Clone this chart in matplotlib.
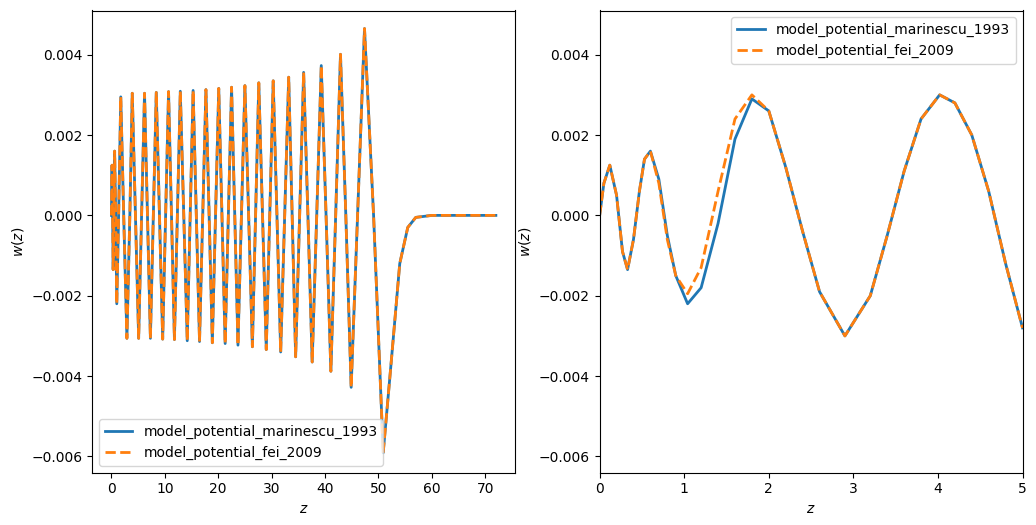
import matplotlib.pyplot as plt
import numpy as np

# full range: extrema and zero crossings (w in units of 1e-3)
full_z = [0, 0.06, 0.12, 0.22, 0.33, 0.46, 0.6, 0.8, 1.0, 1.35, 1.75, 2.3, 2.9, 3.45, 3.9, 4.5, 5.1,
          5.65, 6.2, 6.75, 7.3, 7.85, 8.4, 9.0, 9.6, 10.15, 10.7, 11.25, 11.8, 12.35, 12.9, 13.55, 14.2,
          14.75, 15.3, 15.9, 16.5, 17.1, 17.7, 18.3, 18.9, 19.5, 20.1, 20.7, 21.3, 21.9, 22.5, 23.1, 23.7,
          24.35, 25.0, 25.7, 26.4, 27.0, 27.6, 28.3, 29.0, 29.65, 30.3, 31.0, 31.7, 32.45, 33.2, 33.85,
          34.5, 35.25, 36.0, 36.8, 37.6, 38.45, 39.3, 40.2, 41.1, 42.0, 42.9, 43.9, 44.9, 46.1, 47.4,
          49.1, 50.9, 52.5, 54.0, 55.5, 57.0, 60.0, 72.0]
full_w = [0, 0.8, 1.25, 0, -1.35, 0, 1.6, 0, -2.2, 0, 2.95, 0, -3.06, 0, 3.04, 0, -3.06,
          0, 3.04, 0, -3.06, 0, 3.06, 0, -3.08, 0, 3.08, 0, -3.09, 0, 3.09, 0, -3.12,
          0, 3.11, 0, -3.14, 0, 3.13, 0, -3.17, 0, 3.16, 0, -3.19, 0, 3.19, 0, -3.23,
          0, 3.23, 0, -3.27, 0, 3.30, 0, -3.34, 0, 3.35, 0, -3.40, 0, 3.44, 0,
          -3.52, 0, 3.56, 0, -3.65, 0, 3.73, 0, -3.88, 0, 4.01, 0, -4.28, 0, 4.65,
          0, -5.91, -3.5, -1.2, -0.3, -0.05, 0, 0]

# zoomed range 0..5
zoom_z = [0, 0.05, 0.12, 0.2, 0.27, 0.33, 0.4, 0.47, 0.53, 0.6, 0.7, 0.8, 0.9, 1.04, 1.2, 1.4,
          1.6, 1.8, 2.0, 2.2, 2.4, 2.6, 2.9, 3.2, 3.4, 3.6, 3.8, 4.02, 4.2, 4.4, 4.6, 4.8, 5.0]
marinescu_w = [0, 0.8, 1.25, 0.5, -0.9, -1.35, -0.6, 0.6, 1.4, 1.6, 0.9, -0.5, -1.5, -2.2, -1.8, -0.2,
               1.9, 2.9, 2.6, 1.2, -0.4, -1.9, -3.0, -2.0, -0.5, 1.1, 2.4, 3.0, 2.8, 2.0, 0.6, -1.2, -2.8]
fei_w = [0, 0.8, 1.25, 0.5, -0.9, -1.35, -0.6, 0.6, 1.4, 1.6, 0.8, -0.6, -1.5, -1.95, -1.3, 0.6,
         2.4, 3.0, 2.6, 1.2, -0.4, -1.9, -3.0, -2.0, -0.5, 1.1, 2.4, 3.0, 2.8, 2.0, 0.6, -1.2, -2.8]

full_w = np.array(full_w) * 1e-3
marinescu_w = np.array(marinescu_w) * 1e-3
fei_w = np.array(fei_w) * 1e-3

fig, (ax1, ax2) = plt.subplots(1, 2, figsize=(10.36, 5.25), dpi=100)
fig.subplots_adjust(left=0.089, right=0.987, bottom=0.1, top=0.98, wspace=0.2)

ax1.plot(full_z, full_w, lw=2, color="#1f77b4", label="model_potential_marinescu_1993")
ax1.plot(full_z, full_w, lw=2, ls="--", color="#ff7f0e", label="model_potential_fei_2009")
ax1.set_ylim(-0.0064, 0.0051)
ax1.set_xticks([0, 10, 20, 30, 40, 50, 60, 70])
ax1.legend(loc="lower left")

ax2.plot(zoom_z, marinescu_w, lw=2, color="#1f77b4", label="model_potential_marinescu_1993")
ax2.plot(zoom_z, fei_w, lw=2, ls="--", color="#ff7f0e", label="model_potential_fei_2009")
ax2.set_xlim(0, 5)
ax2.set_ylim(-0.0064, 0.0051)
ax2.legend(loc="upper right")

for ax in (ax1, ax2):
    ax.set_xlabel("$z$")
    ax.set_ylabel("$w(z)$")

plt.savefig("out.png")
